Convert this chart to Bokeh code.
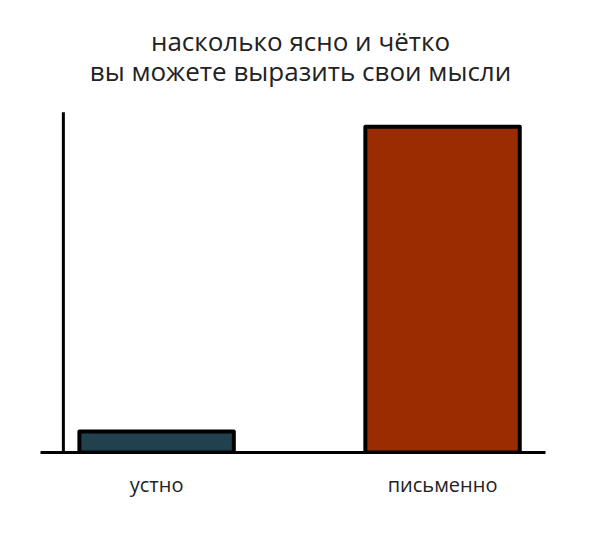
from bokeh.plotting import figure
from bokeh.models import Range1d, FixedTicker, Label, Arrow
from bokeh.embed import file_html
from bokeh.resources import INLINE

categories = ["устно", "письменно"]
values = [6.2, 96.7]
colors = ["#22414f", "#992c00"]
title_lines = ["насколько ясно и чётко", "вы можете выразить свои мысли"]

idx = list(range(len(categories)))
FONT = "Open Sans"

# frame spans from the title area down to the baseline; values 0..100 fill the lower 337px
p = figure(width=584, height=524, output_backend="svg", toolbar_location=None,
           x_range=Range1d(-0.406, 1.36), y_range=Range1d(0, 128.2),
           y_axis_location=None,
           min_border_left=40, min_border_right=39, min_border_top=20, min_border_bottom=72)

p.xgrid.visible = False
p.ygrid.visible = False
p.outline_line_color = None

p.vbar(x=idx, top=values, width=0.54, fill_color=colors, line_color="black",
       line_width=4, line_join="round")

ax = p.xaxis[0]
ax.ticker = FixedTicker(ticks=idx)
ax.major_label_overrides = {i: c for i, c in zip(idx, categories)}
ax.major_tick_line_color = None
ax.minor_tick_line_color = None
ax.axis_line_width = 3
ax.axis_line_color = "black"
ax.major_label_standoff = 12
ax.major_label_text_font = FONT
ax.major_label_text_font_size = "20px"
ax.major_label_text_color = "#222222"

# vertical axis line (hand-drawn style y axis without ticks)
yline = Arrow(end=None, x_start=-0.326, y_start=0, x_end=-0.326, y_end=101,
              line_color="black", line_width=3)
p.add_layout(yline)

# screen units: from the frame's bottom-left corner, y upward
for i, line in enumerate(title_lines):
    lab = Label(x=260, y=412 - 30 * i, x_units="screen", y_units="screen",
                text=line, text_align="center", text_baseline="middle",
                text_font=FONT, text_font_size="26px", text_color="#222222")
    p.add_layout(lab)

open("out.html", "w").write(file_html(p, INLINE))
